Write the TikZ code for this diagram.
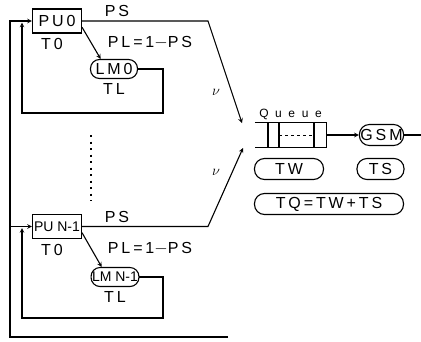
\documentclass[tikz,border=0pt]{standalone}
\usepackage{fontspec}
\setmainfont{Liberation Sans}
\newfontfamily\wide[LetterSpace=18]{Liberation Sans}
\newfontfamily\widest[LetterSpace=55]{Liberation Sans}
\usetikzlibrary{arrows, positioning}
\tikzstyle{unit} = [
    rectangle,
    minimum width=49pt,
    minimum height=24pt,
    inner sep=1pt,
    draw=black,
    line width=1.1pt
]
\tikzstyle{memory} = [
    rectangle,
    rounded corners=9pt,
    minimum width=47pt,
    minimum height=19pt,
    inner sep=1pt,
    draw=black,
    line width=1.1pt
]
\tikzstyle{timebox} = [
    rectangle,
    rounded corners=10pt,
    minimum height=21pt,
    inner sep=1pt,
    draw=black,
    line width=1.1pt,
    font=\wide\fontsize{16}{17}\selectfont
]
\tikzstyle{txt} = [inner sep=0pt, font=\wide\fontsize{16}{17}\selectfont]
\tikzstyle{small} = [font=\fontsize{14}{15}\selectfont]
\tikzstyle{wire} = [line width=1.1pt]
\tikzstyle{arrow} = [line width=1.1pt,->,>=stealth]

\begin{document}
\begin{tikzpicture}[x=1pt, y=-1pt]
\useasboundingbox (0,0) rectangle (421,341);

\node (pu0) [unit, txt] at (57,21) {PU0};
\node (t0a) [txt, below=5pt of pu0, xshift=-5pt] {T0};
\node (lm0) [memory, txt] at (114,69) {LM0};
\node (tla) [txt, below=4pt of lm0] {TL};
\node (ps0) [txt] at (117,11) {PS};
\node (pl0) [txt] at (150,43) {PL=1$-$PS};

\node (pun) [unit, small] at (57,226.5) {PU N-1};
\node (t0b) [txt, below=5pt of pun, xshift=-5pt] {T0};
\node (lmn) [memory, small] at (115,277) {LM N-1};
\node (tlb) [txt, below=4pt of lmn] {TL};
\node (psn) [txt] at (117,217) {PS};
\node (pln) [txt] at (150,249) {PL=1$-$PS};

\node (nu0) [font=\fontsize{15}{16}\selectfont] at (216,92) {$\nu$};
\node (nun) [font=\fontsize{15}{16}\selectfont] at (216,172) {$\nu$};

\node (queue) [minimum width=71pt, minimum height=24pt, inner sep=0pt] at (290.5,135) {};
\node (qtxt) [font=\widest\fontsize{12}{13}\selectfont, inner sep=0pt, above=3pt of queue] {Queue};
\node (gsm) [timebox, minimum width=43pt] at (381.5,135) {GSM};
\node (tw) [timebox, minimum width=69pt] at (289,169) {TW};
\node (ts) [timebox, minimum width=47pt] at (380.5,169) {TS};
\node (tq) [timebox, minimum width=149pt] at (329,204) {TQ=TW+TS};

\coordinate (bend0) at (208,21);
\coordinate (bendn) at (208,226.5);
\coordinate (tip0) at (242,123);
\coordinate (tipn) at (243,148);
\coordinate (back) at (228,337);
\coordinate (out) at (421,135);

% queue drawn as open box
\draw [wire] (queue.north west) -- (queue.north east) -- (queue.south east) -- (queue.south west);
\draw [wire] (268,123) -- (268,147) (279,123) -- (279,147) (314,123) -- (314,147);
\draw [dashed, thick] (279,135) -- (314,135);

\draw [arrow] (pu0.-14) -- (lm0.143);
\draw [arrow] (pun.-14) -- (lmn.143);

\draw [arrow] (pu0.east) -- (bend0) -- (tip0);
\draw [arrow] (pun.east) -- (bendn) -- (tipn);

\draw [arrow] (queue.east) -- (gsm.west);
\draw [wire] (gsm.east) -- (out);

\draw [arrow] (lm0.east) -| (163,113) -| (22,22.5);
\draw [arrow] (lmn.east) -| (163,318) -| (22,228);

\draw [arrow] (back) -| (10,21) -- (pu0.west);
\draw [arrow] (10,226.5) -- (pun.west);

\draw [line width=2.2pt, dash pattern=on 2pt off 4.5pt] (91,135) -- (91,201);

\end{tikzpicture}
\end{document}
